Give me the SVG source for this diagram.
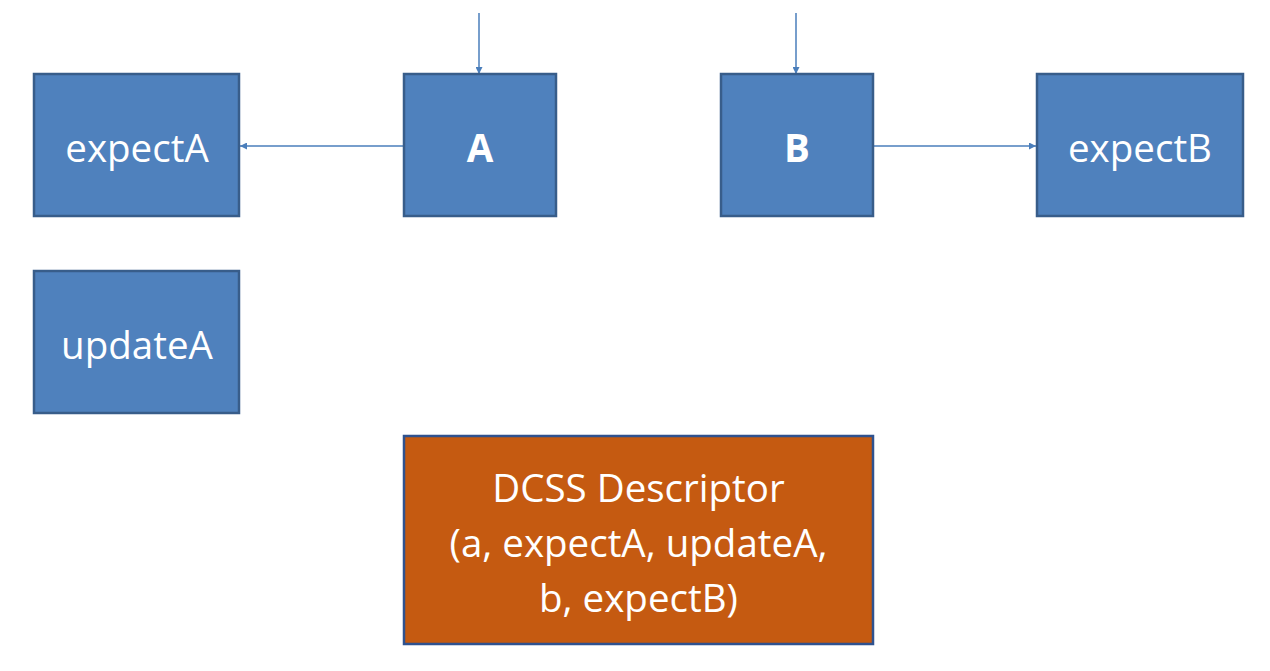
<svg xmlns="http://www.w3.org/2000/svg" width="1270" height="671" viewBox="0 0 1270 671">
<style>
.box{fill:#4F81BD;stroke:#385D8A;stroke-width:2.5}
.org{fill:#C55A11;stroke:#2F528F;stroke-width:2.5}
.t{font-family:"Open Sans","Liberation Sans",sans-serif;font-size:38.5px;fill:#fff;text-anchor:middle}
.b{font-weight:bold}
.c{stroke:#4A7EBB;stroke-width:1.5;fill:none;marker-end:url(#ah)}
</style>
<defs>
<marker id="ah" viewBox="0 0 10 10" refX="10" refY="5" markerWidth="8" markerHeight="7" markerUnits="userSpaceOnUse" orient="auto">
<path d="M0,0 L10,5 L0,10 z" fill="#4A7EBB"/>
</marker>
</defs>
<g id="connectors">
<line class="c" x1="479" y1="13" x2="479" y2="74"/>
<line class="c" x1="796" y1="13" x2="796" y2="74"/>
<line class="c" x1="404" y1="146" x2="240" y2="146"/>
<line class="c" x1="873" y1="146" x2="1036" y2="146"/>
</g>
<g id="expectA"><rect class="box" x="34" y="74" width="205" height="142"/><text class="t" x="137" y="162">expectA</text></g>
<g id="A"><rect class="box" x="404" y="74" width="152" height="142"/><text class="t b" x="480" y="162">A</text></g>
<g id="B"><rect class="box" x="721" y="74" width="152" height="142"/><text class="t b" x="797" y="162">B</text></g>
<g id="expectB"><rect class="box" x="1037" y="74" width="206" height="142"/><text class="t" x="1140" y="162">expectB</text></g>
<g id="updateA"><rect class="box" x="34" y="271" width="205" height="142"/><text class="t" x="137" y="359">updateA</text></g>
<g id="dcss"><rect class="org" x="404" y="436" width="469" height="208"/>
<text class="t" x="638.5" y="502">DCSS Descriptor</text>
<text class="t" x="638.5" y="557">(a, expectA, updateA,</text>
<text class="t" x="638.5" y="612">b, expectB)</text></g>
</svg>
